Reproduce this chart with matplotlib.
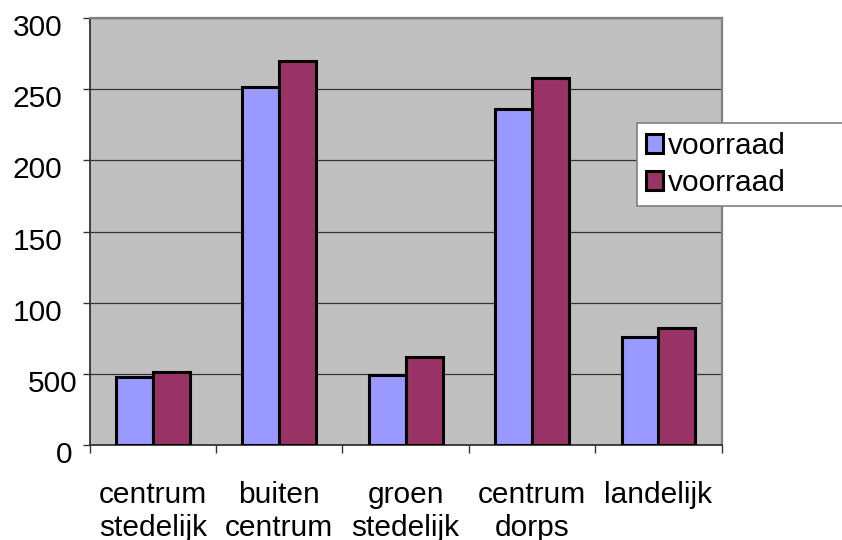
import matplotlib
matplotlib.use("Agg")
import matplotlib.pyplot as plt
import matplotlib.transforms as mtransforms
import numpy as np

plt.rcParams['font.family'] = ['Liberation Sans', 'DejaVu Sans']

categories = ["centrum\nstedelijk", "buiten\ncentrum", "groen\nstedelijk",
              "centrum\ndorps", "landelijk"]
voorraad_1 = [48, 252, 49, 236, 76]
voorraad_2 = [51, 270, 62, 258, 82]
series_names = ["voorraad", "voorraad"]
ytick_values = [0, 50, 100, 150, 200, 250, 300]
ytick_labels = ["0", "500", "100", "150", "200", "250", "300"]

FS = 21.5
W, H = 842, 540
fig = plt.figure(figsize=(W / 100, H / 100), dpi=100)
ax = fig.add_axes([89.5 / W, 1 - 444.8 / H, (721.7 - 89.5) / W, (444.8 - 18.3) / H])
ax.set_facecolor("#C0C0C0")

x = np.arange(len(categories))
bw = 0.292
ax.bar(x - bw / 2, voorraad_1, bw, color="#9999FF", edgecolor="black",
       linewidth=2.2, label=series_names[0], zorder=3)
ax.bar(x + bw / 2, voorraad_2, bw, color="#993366", edgecolor="black",
       linewidth=2.2, label=series_names[1], zorder=3)

ax.set_xlim(-0.5, len(categories) - 0.5)
ax.set_ylim(0, 300)

# y axis
ax.set_yticks(ytick_values)
ax.set_yticklabels(ytick_labels)
ax.yaxis.grid(True, color="#333333", linewidth=0.9, zorder=1)
ax.tick_params(axis="y", direction="out", length=5, width=1, color="#333333",
               pad=14.5, labelsize=FS)
shift = {"500": 15, "0": 10}
for lab in ax.get_yticklabels():
    dx = shift.get(lab.get_text(), 0)
    lab.set_transform(lab.get_transform() +
                      mtransforms.ScaledTranslation(dx / 100, -7 / 100, fig.dpi_scale_trans))

# x axis: labels at centers, tick marks at boundaries
ax.set_xticks(x)
ax.set_xticklabels(categories, linespacing=1.24, va="top")
ax.set_xticks(np.arange(-0.5, len(categories)), minor=True)
ax.tick_params(axis="x", which="major", length=0, pad=26, labelsize=FS)
ax.tick_params(axis="x", which="minor", direction="out", length=5.5, width=1,
               color="#333333")

for s in ["left", "bottom"]:
    ax.spines[s].set_color("#333333")
    ax.spines[s].set_linewidth(1.3)
for s in ["top", "right"]:
    ax.spines[s].set_color("#808080")
    ax.spines[s].set_linewidth(1.6)

leg = ax.legend(loc="upper left",
                bbox_to_anchor=(637 / W, 1 - 206.7 / H, (900 - 637) / W, (206.7 - 123.3) / H),
                bbox_transform=fig.transFigure, mode="expand",
                fontsize=FS, handlelength=0.58, handleheight=0.58,
                handletextpad=0.15, labelspacing=0.3, borderpad=0.3,
                borderaxespad=0, fancybox=False, framealpha=1,
                edgecolor="#808080")
leg.get_frame().set_linewidth(1.2)

fig.savefig("out.png", dpi=100)
